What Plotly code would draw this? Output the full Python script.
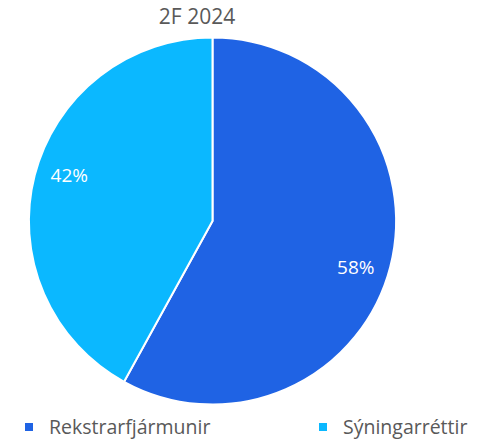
import plotly.graph_objects as go

labels = ["Rekstrarfjármunir", "Sýningarréttir"]
values = [58, 42]
colors = ["#1F63E4", "#0BB8FF"]
title_text = "2F 2024"

W, H = 483, 447
dom = dict(x=[27 / W, 398 / W], y=[1 - 411 / H, 1 - 38 / H])

fig = go.Figure()
fig.add_trace(go.Pie(
    labels=labels,
    values=values,
    marker=dict(colors=colors, line=dict(color="white", width=2)),
    textinfo="none",
    sort=False,
    direction="clockwise",
    rotation=0,
    domain=dom,
    showlegend=False,
    hoverinfo="label+percent",
))
# label ring: same data, transparent, places percentages toward the rim
fig.add_trace(go.Pie(
    labels=labels,
    values=values,
    hole=0.64,
    marker=dict(colors=["rgba(0,0,0,0)"] * len(values), line=dict(width=0)),
    textinfo="percent",
    textposition="inside",
    insidetextorientation="horizontal",
    textfont=dict(color="white", size=19, family="Open Sans"),
    sort=False,
    direction="clockwise",
    rotation=3.5,
    domain=dom,
    showlegend=False,
    hoverinfo="skip",
))

# legend entries (one legend per category so they can sit far apart, as in the reference)
legend_x = [9 / W, 303 / W]
legend_names = ["legend", "legend2"]
for lab, col, lg in zip(labels, colors, legend_names):
    fig.add_trace(go.Scatter(
        x=[None], y=[None], mode="markers", name=lab,
        marker=dict(symbol="square", size=8, color=col),
        legend=lg, showlegend=True, hoverinfo="skip",
    ))

leg_common = dict(orientation="h", y=1 - 434 / H, yanchor="middle", xanchor="left",
                  font=dict(family="Open Sans", size=19.5, color="#595959"),
                  bgcolor="rgba(0,0,0,0)")
fig.update_layout(
    width=W, height=H,
    margin=dict(l=0, r=0, t=0, b=0),
    paper_bgcolor="white",
    plot_bgcolor="white",
    xaxis=dict(visible=False),
    yaxis=dict(visible=False),
    title=dict(text=title_text, x=197 / W, xanchor="center", y=1 - 17 / H, yanchor="middle",
               font=dict(family="Open Sans", size=21, color="#595959")),
    showlegend=True,
    legend=dict(x=legend_x[0], **leg_common),
    legend2=dict(x=legend_x[1], **leg_common),
)
fig.write_html("out.html", config={"displayModeBar": False},
               post_script="document.body.style.margin='0';")
